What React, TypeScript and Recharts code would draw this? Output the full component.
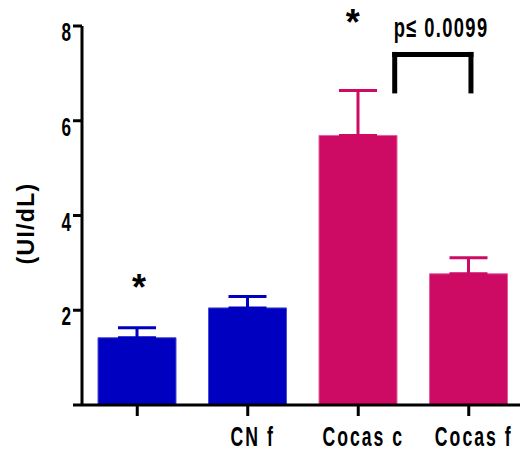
import { Bar, Cell, ComposedChart, ErrorBar, ReferenceDot, ReferenceLine, XAxis, YAxis } from 'recharts'

const categories = ['', 'CN f', 'Cocas c', 'Cocas f']
const groups = ['CN', 'CN', 'Cocas', 'Cocas']
const means = [1.42, 2.05, 5.69, 2.77]
const sems = [0.21, 0.24, 0.95, 0.34]
const yTicks = [0, 2, 4, 6, 8]

// annotations, placed on a hidden 0..4 axis over the four bands
const stars = [
  { x: 0.516, y: 2.6 },
  { x: 2.45, y: 8.19 },
]
const pText = 'p\u2264 0.0099'
const pPos = { x: 3.25, y: 7.77 }
const bracketX = [2.83, 3.52]
const bracketY = [6.63, 7.4]

const FONT = '"Liberation Sans", Arial, sans-serif'
const colors: Record<string, string> = { CN: '#0000C0', Cocas: '#CD0A64' }
const edges: Record<string, string> = { CN: '#4b4bd6', Cocas: '#e0609c' }

const data = categories.map((cat, i) => ({
  cat,
  pos: i + 0.5,
  mean: means[i],
  cnErr: groups[i] === 'CN' ? [0, sems[i]] : null,
  cocasErr: groups[i] === 'Cocas' ? [0, sems[i]] : null,
}))

function XTick({ x, y, payload }: any) {
  return (
    <g transform={`translate(${x + 5},${y})`}>
      <text
        transform="scale(0.63,1)"
        y={28}
        textAnchor="middle"
        fontSize={28}
        fontWeight="bold"
        letterSpacing={3.2}
        fill="#000"
        fontFamily={FONT}
      >
        {payload.value}
      </text>
    </g>
  )
}

function YTick({ x, y, payload }: any) {
  if (payload.value === 0) return null
  return (
    <g transform={`translate(${x},${y})`}>
      <text
        transform="scale(0.66,1)"
        y={15}
        textAnchor="end"
        fontSize={26}
        fontWeight="bold"
        fill="#000"
        fontFamily={FONT}
      >
        {payload.value}
      </text>
    </g>
  )
}

function YLabel({ viewBox }: any) {
  const cx = 34
  const cy = viewBox.y + viewBox.height / 2 + 8
  return (
    <text
      transform={`translate(${cx},${cy}) rotate(-90)`}
      textAnchor="middle"
      fontSize={23}
      fontWeight="bold"
      letterSpacing={1.3}
      fill="#000"
      fontFamily={FONT}
    >
      (UI/dL)
    </text>
  )
}

const starShape = (p: any) => (
  <text x={p.cx} y={p.cy + 18} textAnchor="middle" fontSize={36} fontWeight="bold" fontFamily={FONT} fill="#000">
    *
  </text>
)

const pShape = (p: any) => (
  <g transform={`translate(${p.cx},${p.cy})`}>
    <text
      transform="scale(0.68,1)"
      textAnchor="middle"
      fontSize={27}
      fontWeight="bold"
      letterSpacing={2}
      fontFamily={FONT}
      fill="#000"
    >
      {pText}
    </text>
  </g>
)

export default function App() {
  return (
    <div style={{ position: 'absolute', left: 0, top: 0, width: 520, height: 452, overflow: 'hidden', background: '#fff' }}>
      <ComposedChart width={530} height={452} data={data} margin={{ top: 26, right: 6, left: 0, bottom: 0 }}>
        <XAxis
          dataKey="cat"
          height={47}
          axisLine={{ stroke: '#000', strokeWidth: 3 }}
          tickLine={{ stroke: '#000', strokeWidth: 3 }}
          tickSize={11}
          tick={<XTick />}
          interval={0}
        />
        <XAxis xAxisId="ann" dataKey="pos" type="number" domain={[0, 4]} allowDataOverflow hide />
        <YAxis
          width={82}
          domain={[0, 8]}
          ticks={yTicks}
          axisLine={{ stroke: '#000', strokeWidth: 3 }}
          tickLine={{ stroke: '#000', strokeWidth: 3 }}
          tickSize={9}
          tick={<YTick />}
          label={<YLabel />}
        />
        <Bar dataKey="mean" barSize={78} isAnimationActive={false}>
          {data.map((d, i) => (
            <Cell key={d.cat + i} fill={colors[groups[i]]} stroke={edges[groups[i]]} strokeWidth={1} />
          ))}
          <ErrorBar dataKey="cnErr" direction="y" width={19} stroke={colors.CN} strokeWidth={3} isAnimationActive={false} />
          <ErrorBar dataKey="cocasErr" direction="y" width={19} stroke={colors.Cocas} strokeWidth={3} isAnimationActive={false} />
        </Bar>
        {stars.map((s, i) => (
          <ReferenceDot key={i} xAxisId="ann" x={s.x} y={s.y} r={0} ifOverflow="visible" shape={starShape} />
        ))}
        <ReferenceDot xAxisId="ann" x={pPos.x} y={pPos.y} r={0} ifOverflow="visible" shape={pShape} />
        <ReferenceLine
          xAxisId="ann"
          segment={[{ x: bracketX[0], y: bracketY[1] }, { x: bracketX[1], y: bracketY[1] }]}
          stroke="#000"
          strokeWidth={5}
          strokeLinecap="square"
          ifOverflow="visible"
        />
        <ReferenceLine
          xAxisId="ann"
          segment={[{ x: bracketX[0], y: bracketY[1] }, { x: bracketX[0], y: bracketY[0] }]}
          stroke="#000"
          strokeWidth={5}
          strokeLinecap="square"
          ifOverflow="visible"
        />
        <ReferenceLine
          xAxisId="ann"
          segment={[{ x: bracketX[1], y: bracketY[1] }, { x: bracketX[1], y: bracketY[0] }]}
          stroke="#000"
          strokeWidth={5}
          strokeLinecap="square"
          ifOverflow="visible"
        />
      </ComposedChart>
    </div>
  )
}
